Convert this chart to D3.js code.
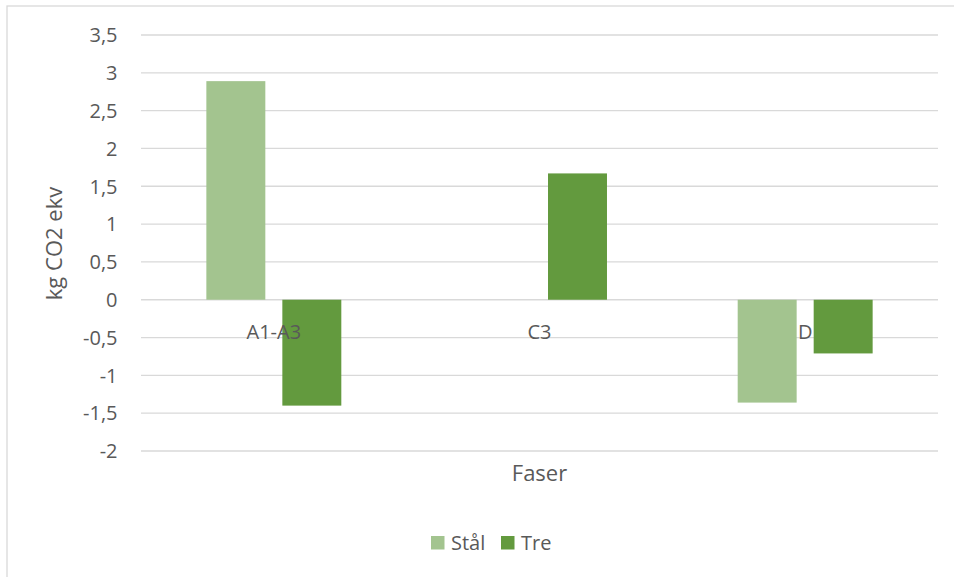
<!DOCTYPE html>
<html>
<head>
<meta charset="utf-8">
<script src="https://cdn.jsdelivr.net/npm/d3@7"></script>
<style>
  html, body { margin: 0; padding: 0; background: #fff; }
  svg { display: block; font-family: "Open Sans", sans-serif; }
</style>
</head>
<body>
<svg id="chart" width="954" height="577"></svg>
<script>
// Fase categories and per-material emission values (kg CO2 ekv)
const categories = ["A1-A3", "C3", "D"];
const seriesNames = ["Stål", "Tre"];
const stalValues = [2.89, 0, -1.36];
const treValues = [-1.40, 1.67, -0.71];
const yTicks = [-2, -1.5, -1, -0.5, 0, 0.5, 1, 1.5, 2, 2.5, 3, 3.5];
const seriesColors = ["#A3C48F", "#639A3E"];

const rows = categories.map((c, i) => ({ cat: c, values: [stalValues[i], treValues[i]] }));

const svg = d3.select("#chart");
const textColor = "#595959";
const gridColor = "#D9D9D9";

// chart area frame
svg.append("rect")
  .attr("x", 7).attr("y", 6)
  .attr("width", 980).attr("height", 620)
  .attr("fill", "none")
  .attr("stroke", gridColor)
  .attr("stroke-width", 1.3);

const plot = { left: 141, right: 938, top: 35, bottom: 451 };

const y = d3.scaleLinear().domain([-2, 3.5]).range([plot.bottom, plot.top]);
const x = d3.scaleBand().domain(categories).range([plot.left, plot.right]).padding(0);
const bw = x.bandwidth();
const xs = d3.scaleBand().domain(seriesNames)
  .range([bw * 0.246, bw * 0.754])
  .paddingInner(0.224).paddingOuter(0);

// gridlines
svg.append("g")
  .selectAll("line")
  .data(yTicks)
  .join("line")
  .attr("x1", plot.left).attr("x2", plot.right)
  .attr("y1", d => y(d)).attr("y2", d => y(d))
  .attr("stroke", gridColor)
  .attr("stroke-width", 1.3);

// y tick labels
const fmt = v => String(v).replace(".", ",");
svg.append("g")
  .selectAll("text")
  .data(yTicks)
  .join("text")
  .attr("x", 117.5)
  .attr("y", d => y(d) + 7.3)
  .attr("text-anchor", "end")
  .attr("font-size", 20)
  .attr("fill", textColor)
  .text(fmt);

// bars
const groups = svg.append("g")
  .selectAll("g")
  .data(rows)
  .join("g")
  .attr("transform", d => `translate(${x(d.cat)},0)`);

groups.selectAll("rect")
  .data(d => d.values.map((v, i) => ({ name: seriesNames[i], v, i })).filter(e => e.v !== 0))
  .join("rect")
  .attr("x", d => xs(d.name))
  .attr("width", xs.bandwidth())
  .attr("y", d => Math.min(y(d.v), y(0)))
  .attr("height", d => Math.abs(y(d.v) - y(0)))
  .attr("fill", d => seriesColors[d.i]);

// category labels next to the zero line
svg.append("g")
  .selectAll("text")
  .data(categories)
  .join("text")
  .attr("x", d => x(d) + bw / 2)
  .attr("y", 338.5)
  .attr("text-anchor", "middle")
  .attr("font-size", 20)
  .attr("fill", textColor)
  .text(d => d);

// axis titles
svg.append("text")
  .attr("x", (plot.left + plot.right) / 2)
  .attr("y", 480.5)
  .attr("text-anchor", "middle")
  .attr("font-size", 22)
  .attr("fill", textColor)
  .text("Faser");

svg.append("text")
  .attr("transform", `translate(61.5,243.5) rotate(-90)`)
  .attr("text-anchor", "middle")
  .attr("font-size", 22)
  .attr("fill", textColor)
  .text("kg CO2 ekv");

// legend
const legendX = [431, 501];
const legend = svg.append("g")
  .selectAll("g")
  .data(seriesNames)
  .join("g")
  .attr("transform", (d, i) => `translate(${legendX[i]},536)`);
legend.append("rect")
  .attr("width", 13.5).attr("height", 13.5)
  .attr("fill", (d, i) => seriesColors[i]);
legend.append("text")
  .attr("x", 20).attr("y", 14)
  .attr("font-size", 20)
  .attr("fill", textColor)
  .text(d => d);
</script>
</body>
</html>
